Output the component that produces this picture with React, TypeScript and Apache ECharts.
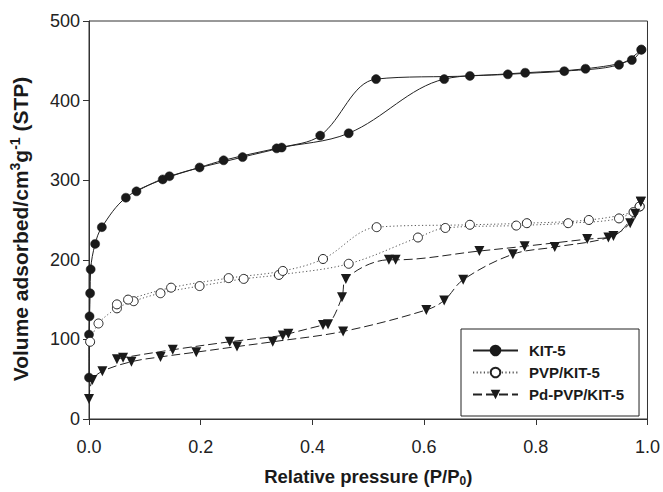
import React, { useEffect, useRef } from "react";
import * as echarts from "echarts";

// KIT-5
const kitAdsX = [0, 0, 0.001, 0.002, 0.003, 0.011, 0.023, 0.066, 0.132, 0.198, 0.241, 0.336, 0.465, 0.636, 0.750, 0.851, 0.949, 0.989];
const kitAdsY = [52, 106, 129, 158, 188, 220, 241, 278, 301, 316, 325, 340, 359, 427, 433, 437, 445, 464];
const kitDesX = [0.989, 0.972, 0.889, 0.781, 0.682, 0.514, 0.414, 0.345, 0.275, 0.144, 0.085];
const kitDesY = [464, 451, 440, 435, 431, 427, 356, 341, 329, 305, 286];

// PVP/KIT-5
const pvpAdsX = [0.002, 0.017, 0.050, 0.080, 0.128, 0.198, 0.277, 0.340, 0.465, 0.589, 0.638, 0.765, 0.858, 0.949, 0.986];
const pvpAdsY = [97, 120, 139, 148, 158, 167, 176, 181, 195, 228, 240, 243, 246, 252, 267];
const pvpDesX = [0.986, 0.975, 0.895, 0.784, 0.682, 0.515, 0.419, 0.347, 0.250, 0.147, 0.070, 0.050];
const pvpDesY = [267, 260, 250, 246, 244, 241, 201, 186, 177, 165, 150, 144];

// Pd-PVP/KIT-5
const pdAdsX = [0, 0.006, 0.024, 0.076, 0.128, 0.192, 0.265, 0.329, 0.455, 0.604, 0.636, 0.670, 0.759, 0.834, 0.930, 0.969, 0.988];
const pdAdsY = [25, 49, 60, 72, 78, 84, 91, 97, 110, 137, 149, 175, 207, 216, 228, 246, 273];
const pdDesX = [0.988, 0.978, 0.939, 0.892, 0.780, 0.699, 0.549, 0.537, 0.460, 0.453, 0.428, 0.419, 0.357, 0.347, 0.252, 0.150, 0.061, 0.050];
const pdDesY = [273, 258, 230, 226, 217, 211, 200, 200, 176, 153, 119, 118, 107, 105, 97, 87, 77, 75];

const seriesNames = ["KIT-5", "PVP/KIT-5", "Pd-PVP/KIT-5"];
const xTicks = { min: 0, max: 1, interval: 0.2 };
const yTicks = { min: 0, max: 500, interval: 100 };

const pairs = (xs: number[], ys: number[]) => xs.map((x, i) => [x, ys[i]]);

export default function App() {
  const ref = useRef<HTMLDivElement>(null);
  useEffect(() => {
    const chart = echarts.init(ref.current!, null, { renderer: "svg" });
    const font = "Liberation Sans, Arial, sans-serif";
    const ink = "#1a1a1a";

    const kitStyle = {
      symbol: "circle",
      symbolSize: 9,
      itemStyle: { color: ink, borderColor: ink, borderWidth: 0.5 },
      lineStyle: { color: "#222", width: 1, type: "solid" },
    };
    const pvpStyle = {
      symbol: "circle",
      symbolSize: 9,
      itemStyle: { color: "#fff", borderColor: "#222", borderWidth: 1 },
      lineStyle: { color: "#555", width: 1, type: [1.2, 2.4] },
    };
    const pdStyle = {
      symbol: "triangle",
      symbolRotate: 180,
      symbolSize: 10,
      itemStyle: { color: ink },
      lineStyle: { color: "#222", width: 1, type: [9, 4] },
    };
    const mk = (name: string, data: number[][], st: any) => ({
      type: "line",
      name,
      data,
      smooth: 0.35,
      clip: false,
      showSymbol: true,
      ...st,
    });

    chart.setOption({
      animation: false,
      backgroundColor: "#fff",
      textStyle: { fontFamily: font },
      grid: {
        left: 87,
        right: 13,
        top: 21,
        bottom: 66,
        show: true,
        borderColor: "#333",
        borderWidth: 1,
        backgroundColor: "transparent",
      },
      legend: {
        data: seriesNames,
        orient: "vertical",
        left: 461,
        top: 329,
        itemWidth: 45,
        itemHeight: 12,
        itemGap: 7,
        padding: [14, 15, 14, 11],
        backgroundColor: "#fff",
        borderColor: "#222",
        borderWidth: 1,
        borderRadius: 0,
        textStyle: {
          fontFamily: font,
          fontSize: 15,
          fontWeight: "bold",
          color: ink,
          padding: [0, 0, 0, 6],
        },
      },
      xAxis: {
        type: "value",
        ...xTicks,
        name: "{b|Relative pressure (P/P}{s|0}{b|)}",
        nameLocation: "middle",
        nameGap: 47,
        nameTextStyle: {
          rich: {
            b: { fontFamily: font, fontSize: 18.5, fontWeight: "bold", color: ink },
            s: { fontFamily: font, fontSize: 12, fontWeight: "bold", color: ink, padding: [9, 0, 0, 0] },
          },
        },
        axisLine: { show: true, lineStyle: { color: "#333", width: 1 } },
        axisTick: { show: true, inside: false, length: 6, lineStyle: { color: "#333" } },
        axisLabel: {
          fontFamily: font,
          fontSize: 18,
          color: "#222",
          margin: 19,
          formatter: (v: number) => v.toFixed(1),
        },
        splitLine: { show: false },
      },
      yAxis: {
        type: "value",
        ...yTicks,
        name: "{b|Volume adsorbed/cm}{p|3}{b|g}{p|-1}{b| (STP)}",
        nameLocation: "middle",
        nameRotate: 90,
        nameGap: 56,
        nameTextStyle: {
          padding: [0, 18, 0, 0],
          rich: {
            b: { fontFamily: font, fontSize: 21, fontWeight: "bold", color: ink },
            p: { fontFamily: font, fontSize: 14, fontWeight: "bold", color: ink, padding: [0, 0, 11, 0] },
          },
        },
        axisLine: { show: true, lineStyle: { color: "#333", width: 1 } },
        axisTick: { show: true, inside: false, length: 6, lineStyle: { color: "#333" } },
        axisLabel: { fontFamily: font, fontSize: 18, color: "#222", margin: 9 },
        splitLine: { show: false },
      },
      series: [
        mk(seriesNames[0], pairs(kitAdsX, kitAdsY), kitStyle),
        mk(seriesNames[0], pairs(kitDesX, kitDesY), kitStyle),
        mk(seriesNames[1], pairs(pvpAdsX, pvpAdsY), pvpStyle),
        mk(seriesNames[1], pairs(pvpDesX, pvpDesY), pvpStyle),
        mk(seriesNames[2], pairs(pdAdsX, pdAdsY), pdStyle),
        mk(seriesNames[2], pairs(pdDesX, pdDesY), pdStyle),
      ],
    });
    return () => chart.dispose();
  }, []);
  return (
    <div
      ref={ref}
      style={{ position: "fixed", left: 0, top: 0, width: 663, height: 492, background: "#fff" }}
    />
  );
}
